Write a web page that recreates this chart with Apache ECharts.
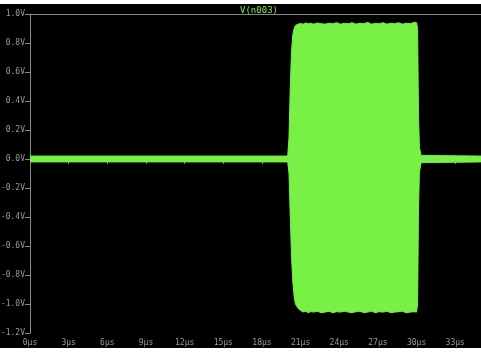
<!DOCTYPE html>
<html>
<head>
<meta charset="utf-8">
<script src="https://cdn.jsdelivr.net/npm/echarts@6/dist/echarts.min.js"></script>
<style>
  html, body { margin: 0; padding: 0; background: #fff; }
  #main { position: absolute; left: 0; top: 4px; width: 481px; height: 344px; }
</style>
</head>
<body>
<div id="main"></div>
<script>
// envelope of V(n003) (µs, V)
const timeUs = [0, 20.0, 20.1, 20.2, 20.3, 20.4, 20.5, 20.6, 20.8, 21.0, 21.2, 21.4, 21.6, 21.8, 22.0,
  22.3, 22.6, 22.9, 23.2, 23.5, 23.8, 24.1, 24.4, 24.7, 25.0, 25.3, 25.6, 25.9, 26.2, 26.5,
  26.8, 27.1, 27.4, 27.7, 28.0, 28.3, 28.6, 28.9, 29.2, 29.5, 29.8, 30.0, 30.08, 30.15, 30.22, 30.35, 35]
const upperV = [0.02, 0.02, 0.15, 0.5, 0.75, 0.86, 0.9, 0.92, 0.93, 0.935, 0.93, 0.938, 0.933, 0.936, 0.93,
  0.938, 0.933, 0.93, 0.936, 0.933, 0.94, 0.93, 0.936, 0.933, 0.94, 0.93, 0.936, 0.933, 0.942, 0.93,
  0.936, 0.933, 0.94, 0.93, 0.936, 0.933, 0.94, 0.93, 0.936, 0.933, 0.942, 0.94, 0.9, 0.3, 0.08, 0.025, 0.02]
const lowerV = [-0.02, -0.02, -0.1, -0.4, -0.68, -0.85, -0.95, -1.0, -1.03, -1.045, -1.055, -1.05, -1.06, -1.052, -1.056,
  -1.05, -1.06, -1.056, -1.05, -1.06, -1.053, -1.056, -1.05, -1.056, -1.06, -1.053, -1.05, -1.06, -1.056, -1.05,
  -1.06, -1.053, -1.056, -1.05, -1.06, -1.056, -1.053, -1.05, -1.06, -1.056, -1.053, -1.056, -1.0, -0.35, -0.09, -0.025, -0.02]

const green = '#78f046'
const gray = '#8a8a8a'
const labelFont = { color: '#9a9a9a', fontFamily: 'DejaVu Sans Mono', fontSize: 8 }

const chart = echarts.init(document.getElementById('main'))
chart.setOption({
  backgroundColor: '#000',
  animation: false,
  title: {
    text: 'V(n003)',
    left: 254,
    textAlign: 'center',
    top: -3,
    textStyle: { color: green, fontFamily: 'DejaVu Sans Mono', fontSize: 9, fontWeight: 'normal' }
  },
  grid: { left: 30, right: 0, top: 10, bottom: 15, containLabel: false, outerBoundsMode: 'none' },
  xAxis: [
    {
      type: 'value', min: 0, max: 35, interval: 3,
      axisLine: { lineStyle: { color: gray } },
      axisTick: { show: true, inside: false, length: 5, lineStyle: { color: gray } },
      axisLabel: { ...labelFont, margin: 6, showMaxLabel: false, formatter: v => v + 'µs' },
      splitLine: { show: false }
    },
    {
      type: 'value', min: 0, max: 35, position: 'top',
      axisLine: { show: true, lineStyle: { color: gray } },
      axisTick: { show: false }, axisLabel: { show: false }, splitLine: { show: false }
    }
  ],
  yAxis: {
    type: 'value', min: -1.2, max: 1.0, interval: 0.2,
    axisLine: { show: true, lineStyle: { color: gray } },
    axisTick: { show: true, inside: false, length: 5, lineStyle: { color: gray } },
    axisLabel: { ...labelFont, margin: 5, formatter: v => v.toFixed(1) + 'V' },
    splitLine: { show: false }
  },
  series: [
    {
      type: 'line', symbol: 'none', data: timeUs.map((t, i) => [t, upperV[i]]),
      lineStyle: { color: green, width: 1 }, areaStyle: { color: green, opacity: 1 }
    },
    {
      type: 'line', symbol: 'none', data: timeUs.map((t, i) => [t, lowerV[i]]),
      lineStyle: { color: green, width: 1 }, areaStyle: { color: green, opacity: 1 }
    }
  ]
})
</script>
</body>
</html>
